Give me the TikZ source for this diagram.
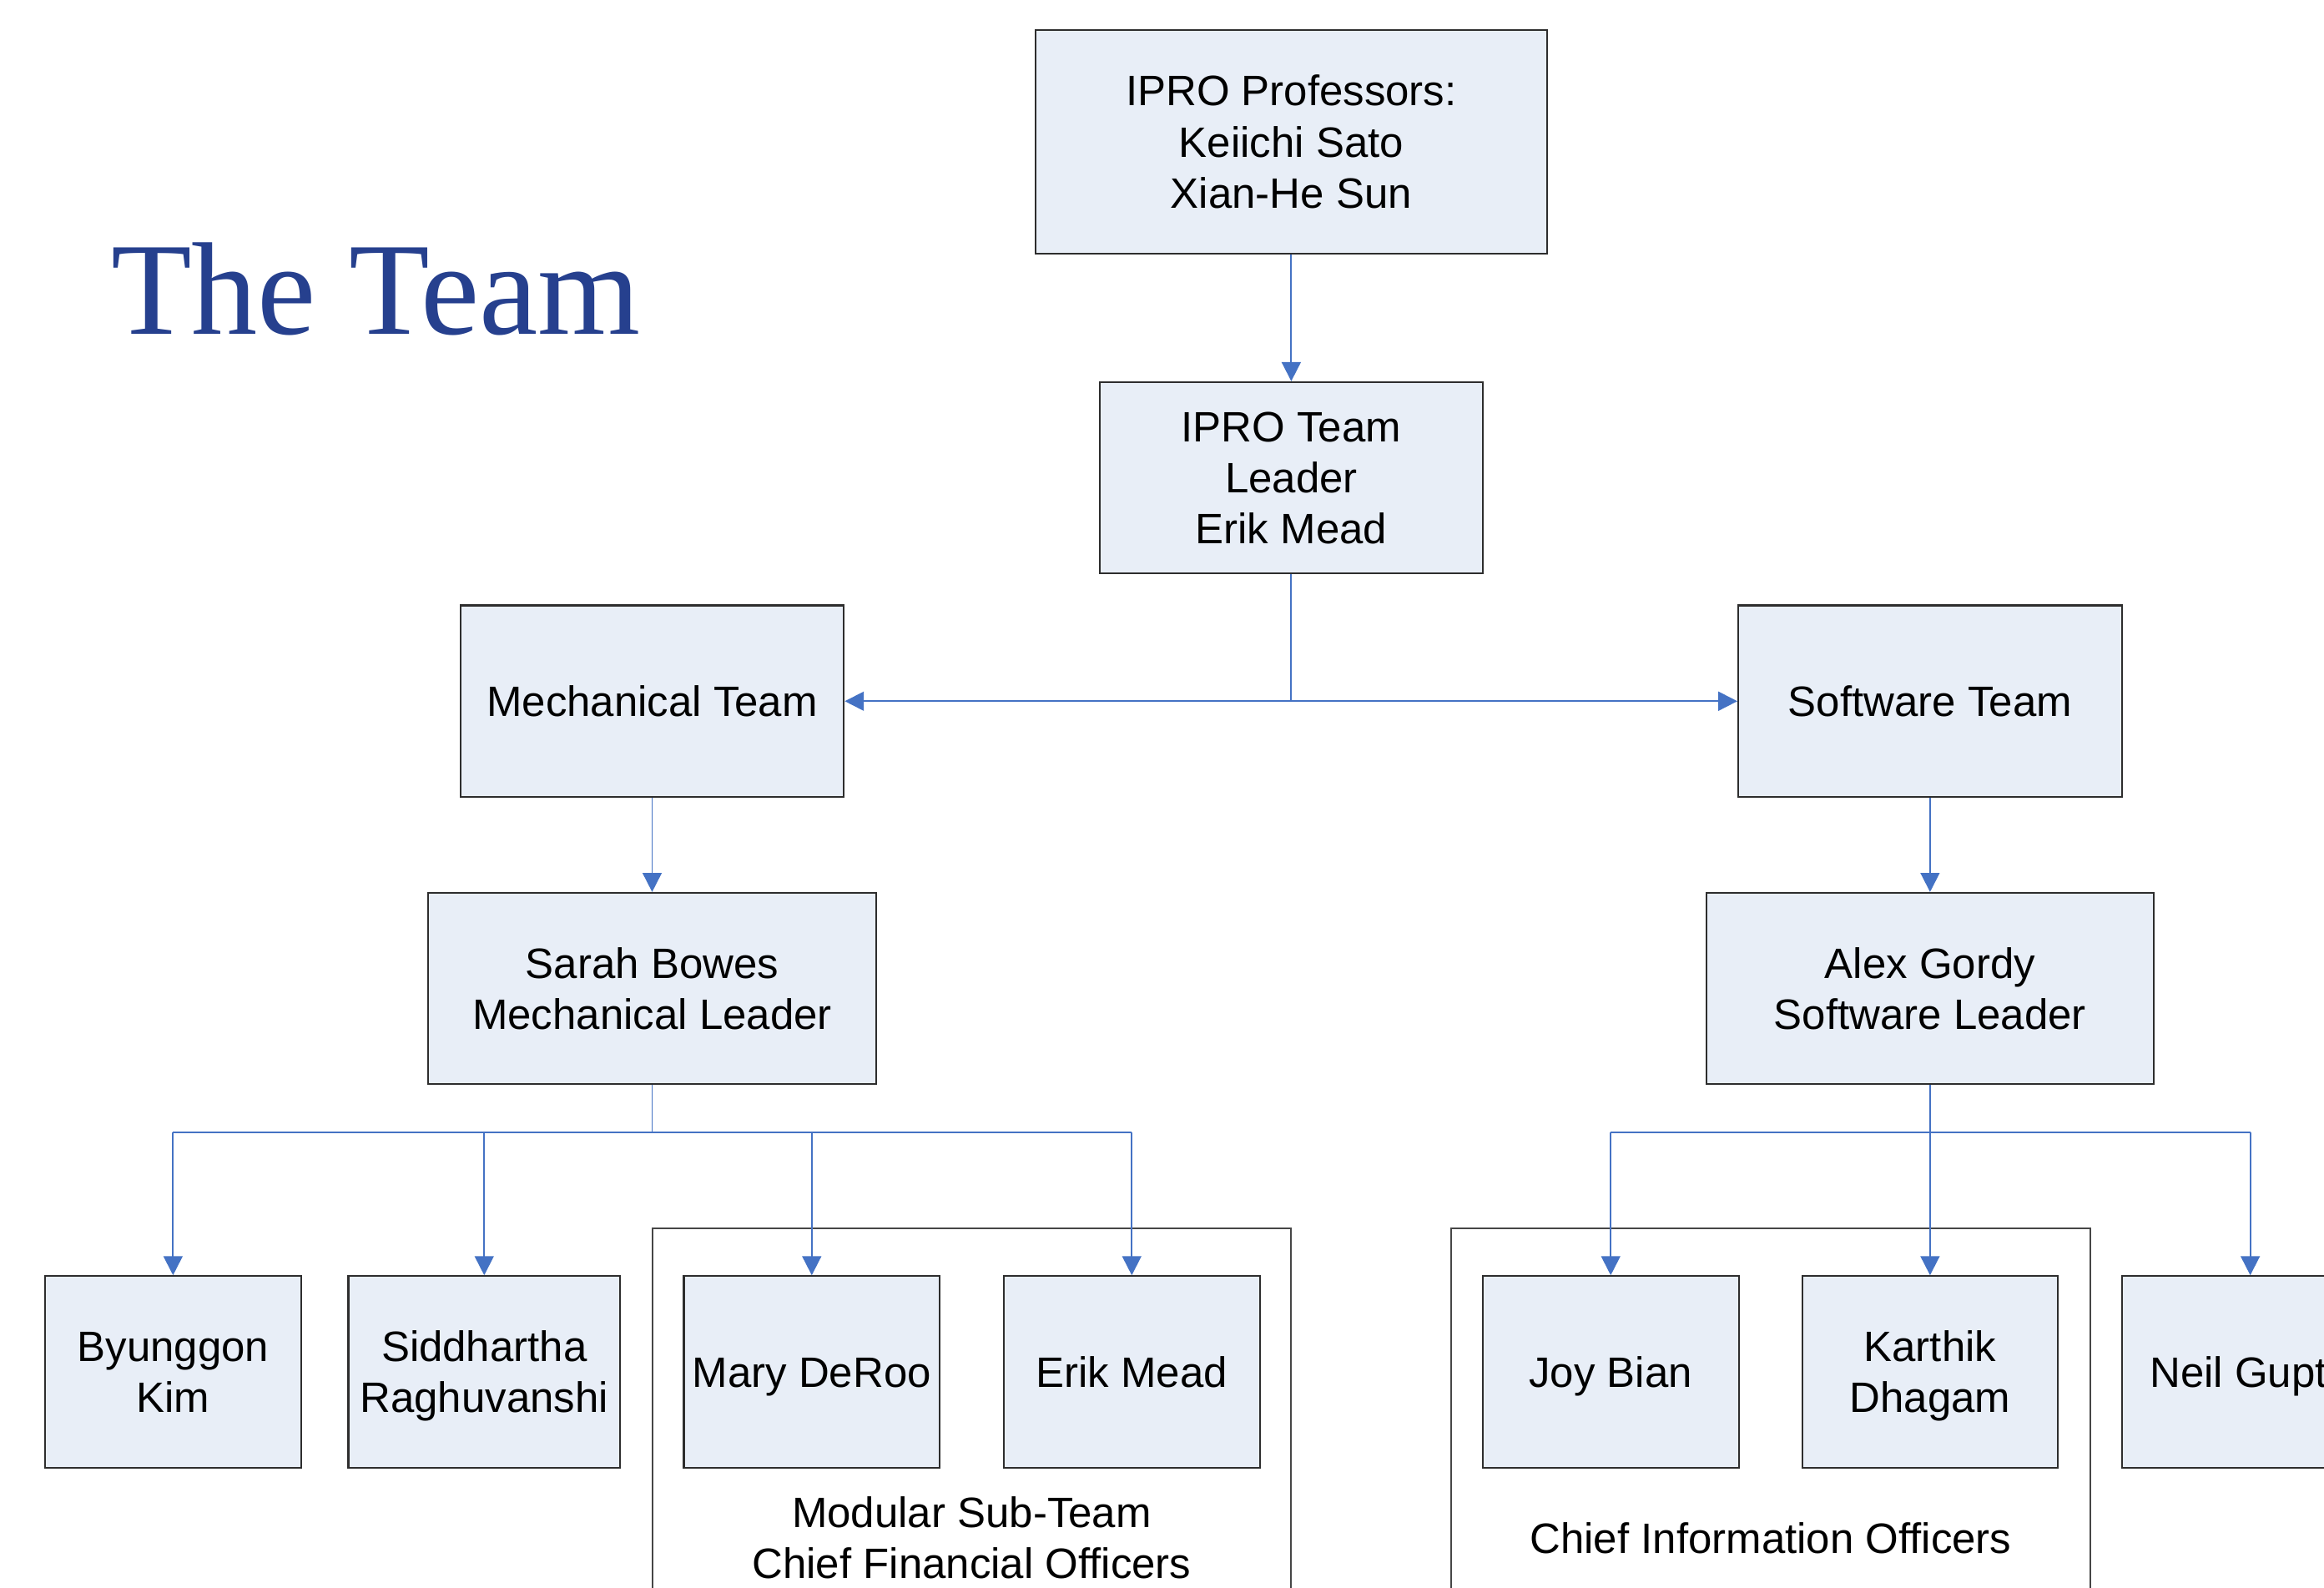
\documentclass[tikz,border=0pt]{standalone}
\usepackage{fontspec}
\setmainfont{Liberation Sans}
\newfontfamily\titlefont{Liberation Serif}
\usetikzlibrary{arrows.meta}
\definecolor{connblue}{RGB}{68,114,196}
\definecolor{boxfill}{RGB}{232,238,247}
\definecolor{boxline}{RGB}{45,45,45}
\definecolor{grpline}{RGB}{70,70,70}
\definecolor{titleblue}{RGB}{38,64,142}
\def\unitpx{0.017761cm}
\newcommand\capline[1]{\rule{0pt}{10.4pt}\smash{#1}}
\tikzset{
  orgbox/.style={draw=boxline, fill=boxfill, line width=0.6pt, inner sep=0pt,
    align=center, text=black, font=\fontsize{14.5}{17.4}\selectfont,
    minimum height=129.2*\unitpx},
  conn/.style={draw=connblue, line width=0.55pt},
  connarrow/.style={conn, -{Triangle[length=6.5pt,width=6.5pt]}},
  grpbox/.style={draw=grpline, line width=0.6pt},
  grplabel/.style={align=center, inner sep=0pt, text=black, font=\fontsize{14.5}{17.4}\selectfont},
}
\begin{document}
\begin{tikzpicture}[x=0.017761cm, y=-0.017761cm]
\clip (0,0) rectangle (1568,1071);
\fill[white] (0,0) rectangle (1568,1071);

% title
\node[anchor=base west, inner sep=0pt, text=titleblue,
  font=\titlefont\fontsize{45}{50}\selectfont] (title) at (74.5,225.4) {The Team};

% group frames (behind)
\draw[grpbox] (440.1,1100) -- (440.1,829) -- (871.2,829) -- (871.2,1100);
\draw[grpbox] (979,1100) -- (979,829) -- (1410.4,829) -- (1410.4,1100);
\node[grplabel] (modlabel) at (655.6,1037.5) {\capline{Modular Sub-Team}\\\capline{Chief Financial Officers}};
\node[grplabel] (ciolabel) at (1194.7,1038) {\capline{Chief Information Officers}};

% boxes
\node[orgbox, minimum width=345*\unitpx, minimum height=151*\unitpx] (prof) at (871.2,95.6) {\capline{IPRO Professors:}\\\capline{Keiichi Sato}\\\capline{Xian-He Sun}};
\node[orgbox, minimum width=258.8*\unitpx, minimum height=129*\unitpx] (lead) at (871.2,322.3) {\capline{IPRO Team}\\\capline{Leader}\\\capline{Erik Mead}};
\node[orgbox, minimum width=258.8*\unitpx] (mech) at (440,473.1) {\capline{Mechanical Team}};
\node[orgbox, minimum width=258.8*\unitpx] (soft) at (1302.2,473.1) {\capline{Software Team}};
\node[orgbox, minimum width=302*\unitpx] (sarah) at (440,667) {\capline{Sarah Bowes}\\\capline{Mechanical Leader}};
\node[orgbox, minimum width=302*\unitpx] (alex) at (1302.2,667) {\capline{Alex Gordy}\\\capline{Software Leader}};

\node[orgbox, minimum width=172.7*\unitpx] (byung) at (116.75,925.6) {\capline{Byunggon}\\\capline{Kim}};
\node[orgbox, minimum width=183.3*\unitpx] (sidd) at (326.7,925.6) {\capline{Siddhartha}\\\capline{Raghuvanshi}};
\node[orgbox, minimum width=172.6*\unitpx] (mary) at (547.7,925.6) {\capline{Mary DeRoo}};
\node[orgbox, minimum width=172.6*\unitpx] (erik) at (763.6,925.6) {\capline{Erik Mead}};
\node[orgbox, minimum width=172.7*\unitpx] (joy) at (1086.75,925.6) {\capline{Joy Bian}};
\node[orgbox, minimum width=172.2*\unitpx] (karthik) at (1302.2,925.6) {\capline{Karthik}\\\capline{Dhagam}};
\node[orgbox, minimum width=172.7*\unitpx] (neil) at (1518.25,925.6) {\capline{Neil Gupta}};

% connectors
\draw[connarrow] (prof) -- (lead);
\coordinate (mj) at (lead.south |- mech.east);
\draw[conn] (lead.south) -- (mj);
\draw[connarrow] (mj) -- (mech.east);
\draw[connarrow] (mj) -- (soft.west);
\draw[connarrow] (mech) -- (sarah);
\draw[connarrow] (soft) -- (alex);

\coordinate (sj) at (440,764.2);
\draw[conn] (sarah.south) -- (sj);
\draw[conn] (byung.north |- sj) -- (erik.north |- sj);
\foreach \n in {byung,sidd,mary,erik}{
  \draw[connarrow] (\n.north |- sj) -- (\n.north);
}

\coordinate (aj) at (1302.2,764.2);
\draw[conn] (alex.south) -- (aj);
\draw[conn] (joy.north |- aj) -- (neil.north |- aj);
\foreach \n in {joy,karthik,neil}{
  \draw[connarrow] (\n.north |- aj) -- (\n.north);
}
\end{tikzpicture}
\end{document}
